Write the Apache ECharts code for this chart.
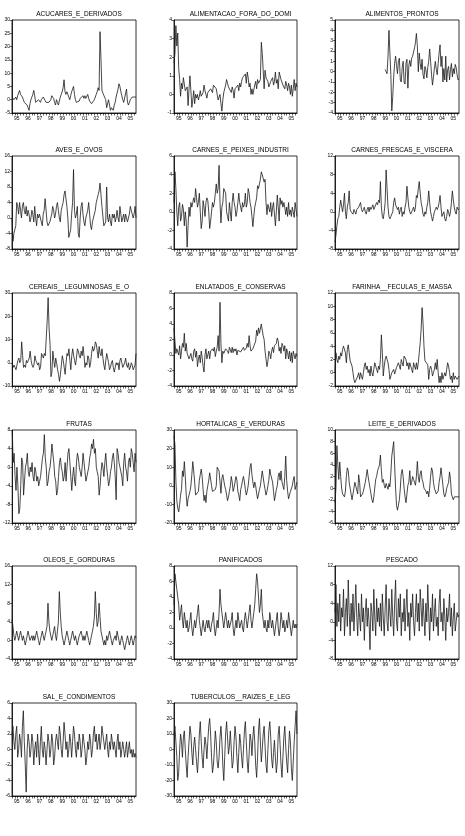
<!DOCTYPE html>
<html>
<head>
<meta charset="utf-8">
<script src="https://cdn.jsdelivr.net/npm/echarts@6/dist/echarts.min.js"></script>
<style>
html, body { margin: 0; padding: 0; background: #fff; }
#main { width: 465px; height: 836px; }
</style>
</head>
<body>
<div id="main"></div>
<script>
// anos do eixo x (dados mensais 1995-2005)
var years = ['95', '96', '97', '98', '99', '00', '01', '02', '03', '04', '05'];

var acucares = [
    1, 0.5, 0, 0.5, 1, 0, 1.5, 2.5, 3.5, 2, 2.5, 1,
    0, -1, -0.5, -1.5, -2, -3, -4, -1.5, 0, 1, 2, 3.5,
    1.5, -1, -1.5, -1, 0, -0.5, -1, 0, 0.5, 1, 1.5, 1,
    -1, -1.5, -1.5, -1, -1, 0, 1.5, 2, 0.5, -1, -2, 0,
    -1, -2, -0.5, 1, 2, 3, 4.5, 7.5, 3, 2, 3, 2,
    1, 0, 1.5, 3, 4, 5, 2, 0, -1, -1.5, -1, -0.5,
    0.5, 1, 0, 1.5, 0.5, 1.5, 0.5, 1, 2, 0.5, -0.5, -1,
    -1.5, -1.5, -1, 0, 1, 2, 3, 4.5, 3.5, 25.6, 15.2, 3.5,
    2.5, 3, 2.5, 0, -3, -3.5, 0, -2, -4, -3, -3.5, -4,
    -2, -1, 1, 2.5, 4, 6, 5, 3, 1.5, 0, -1, -1.5,
    -1, 4, -1, -2, -1.5, 0, 0.5, 1, 1.5, 1.5, 1, 1
];
var alimentacao = [
    1.7, 2.2, 3.7, 2.6, 3.3, 1.4, 0.8, -0.1, 0.6, 0.3, 0.9, 0.8,
    0.2, 0.1, 0.4, -0.6, 0.3, 1.0, 0.2, -0.7, -0.3, 0.2, -0.5, 0.0,
    -0.2, 0.0, -0.3, -0.1, 0.2, -0.1, 0.0, 0.1, 0.5, 0.2, 0.0, -0.2,
    0.1, 0.2, 0.0, 0.3, 0.2, 0.1, 0.5, 0.4, 0.5, 0.3, 0.0, -0.3,
    -0.2, 0.0, -0.5, -0.9, -0.3, 0.1, 0.2, 0.5, 0.8, 0.6, 0.4, 0.3,
    0.3, 0.1, 0.4, 0.2, -0.2, 0.3, 0.2, 0.3, 0.5, 0.2, 0.6, 0.4,
    0.7, 0.9, 1.0, 0.8, 1.1, 0.6, 1.2, 0.9, 0.4, 0.6, 0.0, 0.3,
    0.0, -0.1, 0.5, 0.7, 0.3, 0.8, 0.6, 0.7, 0.8, 2.8, 2.2, 1.3,
    0.3, 1.3, 0.9, 1.0, 0.7, 0.4, 0.5, 0.7, 0.6, 0.9, 0.5, 0.7,
    1.2, 0.6, 0.8, 0.3, 1.2, 1.1, 0.8, 0.9, 0.5, 0.6, 0.3, 0.7,
    0.5, 0.2, 0.6, 0.4, 0.0, 0.5, -0.1, 0.3, 0.8, 0.2, 0.6, 0.4
];
var alimentosProntos = [
    null, null, null, null, null, null, null, null, null, null, null, null,
    null, null, null, null, null, null, null, null, null, null, null, null,
    null, null, null, null, null, null, null, null, null, null, null, null,
    null, null, null, null, null, null, null, null, null, null, null, null,
    null, null, null, null, null, 0.2, 0.0, -0.2, 1.5, 4.0, 1.8, -0.3,
    -3.8, -2.4, -0.5, 0.8, 1.5, 0.6, -0.2, 1.0, 1.3, -0.8, -1.0, 0.4,
    1.0, -1.0, -1.2, 0.8, 1.2, -1.6, 0.6, 1.1, 0.5, 1.3, 1.5, 1.9,
    2.3, 2.8, 3.7, 2.5, 0.0, 1.8, 0.8, 0.2, 1.2, -0.3, -0.7, 0.5,
    0.2, -0.6, 0.4, 1.0, 2.2, 1.0, -0.3, -1.3, -0.5, 0.3, 1.0, 0.2,
    -0.3, 0.8, 1.8, 2.6, 0.5, 1.5, -1.0, 0.3, -0.8, 1.5, -1.0, 0.2,
    0.5, -0.8, 0.2, 0.8, -0.5, 0.3, -0.2, 0.7, 0.4, -0.3, -0.8, -0.7
];
var aves = [
    0, -6, -4, -3, -2, 4, 3, 1, 4, 2, 0, 3,
    4, 2, 1, 3, 0.5, 2, 1, -1, 0, 2, 1, -1,
    3, 0, -2, 1, 0, 1, 0, -1, -2, 1, 2, 5,
    2, -1, -2, -1.5, -1, 0, 1, 3, 2, 0, 1, 3,
    4, 2, 0, -1, 2, 3, 4, 6, 7, 7, 3, 0,
    -5, -5, -3, 1, 4, 12.5, 2, 0, 1, 3, -4, -5,
    0, 3, 4, 1, -1, -2, 0, 1, 2, 4, 1, -2,
    -3, -1, 0, 1, 2, 4, 5, 6, 7, 9, 6, 3,
    3, -2, -2, -1, 8, 0, -1, 1, -1, -2, 1, 0,
    1, -1, 0, 2, 0, -1, 3, 1, -1, 0, 1, -1,
    1, 0, -1, 0, 1, 3, 2, 1, 0, 1, 3, 0
];
var carnesIndustri = [
    1, 4.3, 2.5, 0, -1.5, 0.5, 1, -1, -0.5, 0.8, 0.3, -1.5,
    0, -1, -3.8, -1.5, 0.5, -0.5, 1, 0.5, 1, 1.5, 1, 2.5,
    1.5, 0.5, 1, 2, 0, -1.8, -1, 1.2, 0.5, -0.5, 1, 1.5,
    1.2, 0, -1.8, -1, 0, 1, 0.5, 1, 2, 3, 2, 2.5,
    5, 1, -1.2, 0.5, 1, 2.5, 2.5, 2, 0, -0.5, -1, 1,
    0, -1, 1, 2, 1, 0.5, -0.5, 0, 1, 2, 1, 0.5,
    0, 1, 0.5, 0.8, 2, 0.5, 1, 2.5, 2, 1, 0.5, -0.5,
    -1.6, -0.5, 0.5, 1, 1.5, 2.8, 2.5, 3, 3.5, 4.3, 4.0, 3.8,
    3.2, 3.5, 1, -0.3, 0.8, 1, 0, 1, -0.5, 0.5, 1, 0.8,
    -1.5, 0, 1.8, 0.5, -1, 1.5, 0.8, 1.2, 0.5, 1, 0.5, -0.3,
    0.5, -0.5, 1, -0.3, 0.2, -0.5, 0.5, 0, -0.6, 1, 0.2, -0.5
];
var carnesFrescas = [
    -6.5, -5, -3, -1.5, -1, 1, 2.5, 2.5, 0, 1.5, 4, 0,
    -1.5, 1, 2, 4.5, 0.5, 0, 0, -0.5, 0.5, 0, -0.5, 0.5,
    0.5, 1, 1, 2, 0.5, 0, 0, 1, 0, -0.5, 0.5, 1,
    0, 1, 0.5, 1, 1.5, 0.5, 1, 1.5, 2, 1.5, 2.5, 2,
    6.5, 1, -1, -1.5, 0, 2, 9, 5, 1, -1, -1.5, -1,
    -1, 0, 2, 3, 1.5, 1, 0.5, 1, -0.5, 0.5, 1, -1,
    0, -0.5, 1, 2, 5.5, 3, 1, 0, -0.5, 0, 0.5, 1,
    0, 1, 3.5, 3, 5, 6.5, 4, 2, 1, -0.5, -1, 0,
    -0.5, 1, 2, 4.5, 2, 0, -1, -2, -1, 0, 0.5, 1,
    0.5, 1, 2, 3.5, 1, -1, -1, 0, -1.5, -2, -1, 0.5,
    0, -1, 0, 2, 4.5, 2.5, 1, 0, -0.5, 1, 0.5, 0.5
];
var cereais = [
    0, -2, -1, -2, -3, -1, 1, 2, 0, 1, 9, 3,
    -2, -1, -2, 1, 0, 0, 2, 5, 1, -1, -2, -1,
    3, 1, 0, -1, 0, -3, -2, 4, 3, 2, 4, 3,
    3, 18, 28, 15, 8, -6, -4, 5, 1, -2, 2, 0,
    -3, -5, -8, -5, -1, 3, 1, -2, -5, 0, 4, 3,
    6, 1, -3, 3, 6, 3, 1, -1, 2, 6, 5, 3,
    2, 5, 3, 7, 3, -2, 0, -1, 3, 2, -2, 0,
    4, 7, 5, 6, 9, 8, 5, 2, 7, 4, 3, 6,
    2, -1, -3, 1, 4, 2, 0, -3, -2, 0, 1, -2,
    -4, -2, 0, -1, 0, -3, 1, 2, 0, -2, -1, 0,
    2, -1, -2, 0, -3, -2, 0, -1, -3, -3, -1, 4
];
var enlatados = [
    3.5, 1.8, 0.2, 0.8, 1, 0, 1.2, -0.5, 0.5, 1.5, 1, 2.8,
    0.5, 1.5, 0.2, 0, -0.5, -0.3, 0.2, -0.5, -0.8, 0.5, 0.8, -0.3,
    0.5, -1.5, -0.5, 0, -1, 0.5, -0.3, -1.5, -2.2, 0, 0.8, -0.5,
    0, 0.5, -0.5, 0.5, 0.3, 0.8, 0.5, 1, -0.2, 0.5, 1, 2.5,
    0.5, 6.8, 1.5, -1, 0.5, 0.2, 0, 0.8, 1, 0.5, 0.2, 1,
    0.8, 0.3, 1, 0.3, 0.8, 0.5, 0.8, 0, 0.6, 0.8, 0.5, 0.4,
    0.6, 0.4, 1, 0.6, 0.4, 0.9, 1.5, 1, 2.5, 1.2, 0.5, 0.3,
    0.8, 0.6, 0.8, 1.8, 3.2, 2.5, 3.5, 2.8, 3, 4, 3.2, 2.5,
    2, 0.5, -0.5, -1.5, -0.8, 0.5, 0.2, -0.5, 0.5, 1, 0.3, 1.2,
    1, 1.5, 2.2, 1.8, 0.5, 1, 0.2, 1.5, 1.2, 0.5, 1.2, -0.5,
    0.8, 0.3, -0.5, 0.5, -0.8, 0.3, -1, 0.5, 0, -0.5, 0.2, -0.2
];
var farinha = [
    0, 3, 2, 1.5, 2.5, 2, 3, 2.5, 3.5, 4, 4.2, 3,
    1.5, 3.5, 4.2, 3, 1.8, 2, 1, 0, -1, -1.5, -1.2, -1.5,
    -0.5, 0, -1, 0, -0.5, -1, 0, 1, 1.5, 0.5, 1, 0,
    0.5, -0.5, 1, 0, -0.5, 0.5, 1.5, 1, 0.5, 0, 1, 0.5,
    2, 5.7, 3, -0.5, 1, 2, 2.5, 2.5, 1.5, 0.5, -1, -0.5,
    0, 0.3, 0.5, -0.2, 0, 0.8, 0.5, 1.5, 1, 0.5, 2, 1.5,
    1, 2.5, 2.7, 2, 1, 1.5, 0.5, 1.5, 1, 0.5, 0, 1.5,
    1, 0.5, 1.5, 0.5, 1.5, 3, 4.5, 6.5, 9.8, 7.5, 4, 1.8,
    1.5, 1.8, 1.2, -1, 0.5, 1, 0.5, -0.5, 0, 0.5, 1.5, 0.5,
    2, 0, -1.5, -0.5, -1.5, 0, -1, -0.5, 0, -0.5, 0.5, 1.5,
    1, 0, -1, -0.5, -1.5, 0, -1, -0.5, -0.5, -1, -0.8, -0.5
];
var frutas = [
    8, 1, 3, -2, -5, 0, -4, -10, -9, -4, 2, 1,
    -6, -3, 0, 1, 3, -1, -2, 0, -1, 1, -2, -3,
    0, -1, -3, -2, -4, -3, -2, 0, 2, 3, 7, 2,
    0, -4, -3, -1, 0, 2, 5, 3, 1, -2, -3, -6,
    -5, -2, 1, 2, 0, -1, -3, -2, 1, -3, 0, 3,
    4, 1, -2, -5, -2, 0, -3, -4, 1, 3, 2, 0,
    -1, -2, 0, 3, 1, -1, -3, -2, -2, 0, 2, 3,
    5, 4, 6, 3, 4, 0, -1, -2, -6, -4, -1, 1,
    0, -2, 1, 3, 0, -2, -4, -3, -1, 0, 2, 3,
    1, -2, -7, 4, 3, 1, 0, -1, -2, -4, 1, 3,
    0, -1, -3, 1, 2, 0, 4, 3, 1, -1, 3, 1
];
var hortalicas = [
    27, 22, 3, -8, -12, -14, -10, -5, -2, 8, 5, 13,
    5, -5, -11, -7, -5, -3, 0, 6, 13, 8, 2, -5,
    -6, -4, -3, 3, 6, 9, 5, -2, -8, -5, -9, -3,
    0, 3, 7, 6, 0, -3, -4, -3, -2, 0, 10, 11,
    8, 2, -4, 4, 6, 3, 0, -2, -5, -8, -6, -3,
    0, 5, 2, -3, -1, 0, 5, 3, -3, -5, -8, -2,
    0, 3, 5, 2, -2, -5, -3, 0, 5, 10, 12, 6,
    2, -1, 2, 0, -4, -7, -6, -2, 0, 4, 8, 7,
    1, -2, -5, -3, 0, 3, 9, 6, 5, 2, -3, -8,
    -5, -2, 0, 5, 7, 3, 8, 2, 0, -2, 5, 16,
    3, -3, -7, -5, -3, -4, 0, 3, 5, -2, 0, 2
];
var leite = [
    -2.5, 0, 7.3, 4, 1.5, 4.5, 2, 0, -1, -1.2, -1.5, -0.5,
    2, 3.5, 3, 1, 0, -1, -2, -1.8, 0, 1, 0.8, 1.2,
    -1, 2.3, 1, -1.5, -1.5, -1, -0.5, -0.3, 1, 2, 3.2, 2,
    1, 0, -1, -2, -2.5, -1.5, 0, 1.5, 2, 3, 3.5, 4,
    5.7, 3, 1, 1.5, 0.5, 0, 0.8, 0.5, -0.2, 0.8, 0.2, 2.5,
    5.5, 5.2, 8, 4, 0, -3, -3.8, -4, -2, 0, 2.5, 3.2,
    2, 0, -1.5, -2.5, -1, 0.5, 1, 3, 0.5, 1, 2, 1.5,
    1, 0.5, 2, 4.6, 2, 1, 2.5, 3, 1.5, 1, 0, -0.3,
    -0.5, -1, -0.5, -1.5, 0, 2, 3.5, 3, 1, 0, -0.5, -1,
    -1.2, -0.5, 1, 2, 3.5, 2, 0.5, -1, -1.5, -1, 0, 0.5,
    1, 2.8, 1.5, -1, -1.5, -2, -1.5, -1.2, -1.8, -1.5, -1.3, -1.5
];
var oleos = [
    4.5, 3, 1, 0, 1, 2, 1, 0, 1, 2, 1, 0,
    1, 0, -1, 0, 1, 2, 1, 0, 0, 1, 0, 1,
    0, 1, 2, 1, 0, -1, 0, 1, 2, 1, 0, 1,
    2, 3, 8, 4, 2, 1, 0, 1, 2, 3, 1, 0,
    2, 4, 10.5, 6, 3, 1, 0, -1, 0, 1, 2, 1,
    0, -1, 0, 1, 2, 1, 0, 1, 0, -1, 0, 1,
    1, 2, 1, 0, 1, 0, 1, 2, 1, 0, -1, 0,
    1, 2, 3, 5, 10.5, 6, 3, 4, 8, 5, 2, 1,
    0, -1, 0, -1, 1, 0, 1, 2, 1, 0, -1, 0,
    0, 1, 0, 2, 1, 0, -1, 0, 1, 0, -1, -2,
    -1, 0, 1, 0, -1, 0, 1, 0, -1, 0, 1, 0.5
];
var panificados = [
    3, 7, 6, 5, 4, 3, 1, 2, 3, 1, 0, 2,
    1, 0, 1, -0.5, 0, 1, 2, 0, -1, 0, 1, 0,
    1, 2, 3, 1, 0, -1, 0, 1, 0, -0.5, 0.5, 1,
    0, 1, 0, -0.5, 0.5, 1, 2, 0, -1, 0, 1, 0,
    2, 5, 3, 2, 1, 0, 1, 2, 1, 0, 1, 0,
    0, 1, 2, 0, -1, 0, 1, 0, 2, 1, 0, 0,
    1, 0, -0.5, 1, 2, 1, 0, 1, 2, 3, 1, 0,
    1, 2, 3, 5, 7, 6, 4, 2, 3, 5, 2, 1,
    0, 1, 0, -0.5, 1, 0, 2, 1, 0, 1, 0, -1,
    0, 1, 2, 0, -1, 0, 2, 1, 0, 1, -0.5, 0,
    1, 0, 2, 1, 0, -1, 0, 1, 0, 0.5, 0, 0.5
];
var pescado = [
    2, 8, -1, 4, 0, 6, -2, 3, 1, 7, -3, 2,
    5, -1, 9, 2, -3, 4, 0, 6, -2, 3, 8, 1,
    -3, 4, 1, -2, 6, 0, 3, -4, 2, 5, -1, 3,
    0, -6, 4, 2, -2, 7, 1, -3, 5, 0, 3, -1,
    4, -2, 6, 1, -3, 3, 8, 0, -2, 5, 2, -1,
    7, 1, -3, 4, 9, 0, -2, 5, 1, 6, -3, 2,
    0, 5, -2, 3, 7, -1, 2, -4, 4, 1, 6, 0,
    -3, 2, 6, 0, 4, -2, 7, 3, -1, 5, 1, -3,
    4, 0, 8, 2, -4, 3, 0, 6, -2, 2, 5, -1,
    1, -3, 4, 7, 0, 2, -2, 5, 1, -4, 3, 0,
    2, 6, -1, 3, -3, 1, 4, -2, 0, 2, 1, 1.5
];
var sal = [
    2, 3, 1, 0, 2, 3, -1, 0, 2, 1, -1, 3,
    5, 1, -2, -5.5, 0, 2, 1, -1, 0, 2, 1, -2,
    0, 1, -1, 2, 0, -2, 1, 3, 0, -1, 1, 0,
    -2, 0, 2, 1, -1, 0, 2, 1, -2, -1, 1, 2,
    1, 0, 3, 2, 0, -1, 1, 3.5, 2, 0, 1, -1,
    0, 2, 1, -1, 1, 3, 2, 0, -1, 1, 0, 2,
    1, -1, 0, 2, 1, 0, -2, -1, 1, 0, 2, 1,
    -1, 0, 2, 3, 1, 2, 0, 1, 2, 0, 1, 3,
    2, 1, 0, 1, 2, 0, -1, 1, 0, 2, 1, 0,
    1, 0, -1, 1, 2, 0, 1, -1, 0, 1, 0, -1,
    0, 1, -1, 0, 1, -0.5, 0, -1, 0, -1, -0.5, -1
];
var tuberculos = [
    10, 15, 5, -5, -20, -15, 0, 10, 5, -5, 8, 12,
    0, -10, -18, -5, 5, 15, 10, -2, -10, 2, 8, 0,
    -8, -15, -5, 10, 18, 5, -5, -12, 0, 8, 3, -6,
    5, 15, 20, 10, -5, -15, -10, 0, 12, 5, -8, -12,
    -5, 8, 15, 5, -10, -20, -5, 10, 18, 8, -3, 2,
    12, 0, -12, -8, 5, 15, 8, -5, -15, -2, 10, 4,
    -5, -12, 0, 12, 18, 5, -8, -15, -3, 10, 6, -4,
    8, 15, 5, -10, -18, -5, 12, 20, 5, -8, 0, 10,
    15, 2, -10, -15, 0, 12, 18, 8, -6, -12, -2, 6,
    -5, -15, -8, 10, 15, 3, -10, -18, -5, 8, 15, 2,
    -8, -15, 0, 12, 5, -12, -20, -8, 5, 15, 25, 10
];

var panels = [
    { name: 'ACUCARES_E_DERIVADOS', data: acucares, min: -5, max: 30, step: 5 },
    { name: 'ALIMENTACAO_FORA_DO_DOMI', data: alimentacao, min: -1, max: 4, step: 1 },
    { name: 'ALIMENTOS_PRONTOS', data: alimentosProntos, min: -4, max: 5, step: 1 },
    { name: 'AVES_E_OVOS', data: aves, min: -8, max: 16, step: 4 },
    { name: 'CARNES_E_PEIXES_INDUSTRI', data: carnesIndustri, min: -4, max: 6, step: 2 },
    { name: 'CARNES_FRESCAS_E_VISCERA', data: carnesFrescas, min: -8, max: 12, step: 4 },
    { name: 'CEREAIS__LEGUMINOSAS_E_O', data: cereais, min: -10, max: 30, step: 10 },
    { name: 'ENLATADOS_E_CONSERVAS', data: enlatados, min: -4, max: 8, step: 2 },
    { name: 'FARINHA__FECULAS_E_MASSA', data: farinha, min: -2, max: 12, step: 2 },
    { name: 'FRUTAS', data: frutas, min: -12, max: 8, step: 4 },
    { name: 'HORTALICAS_E_VERDURAS', data: hortalicas, min: -20, max: 30, step: 10 },
    { name: 'LEITE_E_DERIVADOS', data: leite, min: -6, max: 10, step: 2 },
    { name: 'OLEOS_E_GORDURAS', data: oleos, min: -4, max: 16, step: 4 },
    { name: 'PANIFICADOS', data: panificados, min: -4, max: 8, step: 2 },
    { name: 'PESCADO', data: pescado, min: -8, max: 12, step: 4 },
    { name: 'SAL_E_CONDIMENTOS', data: sal, min: -6, max: 6, step: 2 },
    { name: 'TUBERCULOS__RAIZES_E_LEG', data: tuberculos, min: -30, max: 30, step: 10 }
];

// categorias mensais
var months = [];
years.forEach(function(y) {
    for (var m = 1; m <= 12; m++) {
        months.push(y + '-' + m);
    }
});

var colLeft = [12, 174, 335];
var colWidth = [124, 123, 124];
var rowTop = [20, 156, 293, 430, 566, 703];
var plotHeight = 93;
var font = 'Liberation Sans';

var option = {
    backgroundColor: '#fff',
    animation: false,
    title: [],
    grid: [],
    xAxis: [],
    yAxis: [],
    series: []
};

panels.forEach(function(p, i) {
    var c = i % 3;
    var r = Math.floor(i / 3);
    option.title.push({
        text: p.name,
        left: colLeft[c] + colWidth[c] / 2,
        top: rowTop[r] - 14,
        textAlign: 'center',
        textStyle: { fontSize: 6.5, fontWeight: 'normal', color: '#000', fontFamily: font }
    });
    option.grid.push({
        left: colLeft[c],
        top: rowTop[r],
        width: colWidth[c],
        height: plotHeight,
        show: true,
        borderColor: '#000',
        borderWidth: 0.8,
        backgroundColor: '#fff'
    });
    option.xAxis.push({
        gridIndex: i,
        type: 'category',
        boundaryGap: false,
        data: months,
        axisLine: { onZero: false, lineStyle: { color: '#000', width: 0.8 } },
        axisTick: {
            length: 2.5,
            lineStyle: { color: '#000', width: 0.6 },
            interval: function(idx) { return idx % 3 === 0; }
        },
        axisLabel: {
            fontSize: 5,
            color: '#000',
            margin: 3,
            fontFamily: font,
            interval: function(idx) { return idx % 12 === 5; },
            formatter: function(v) { return v.split('-')[0]; }
        },
        splitLine: { show: false }
    });
    option.yAxis.push({
        gridIndex: i,
        type: 'value',
        min: p.min,
        max: p.max,
        interval: p.step,
        axisLine: { show: true, onZero: false, lineStyle: { color: '#000', width: 0.8 } },
        axisTick: { show: true, length: 2, lineStyle: { color: '#000', width: 0.6 } },
        axisLabel: { fontSize: 5, color: '#000', margin: 2, fontFamily: font },
        splitLine: { show: false }
    });
    option.series.push({
        type: 'line',
        xAxisIndex: i,
        yAxisIndex: i,
        data: p.data,
        symbol: 'none',
        connectNulls: false,
        lineStyle: { color: '#1a1a1a', width: 0.8 }
    });
});

var myChart = echarts.init(document.getElementById('main'));
myChart.setOption(option);
</script>
</body>
</html>
